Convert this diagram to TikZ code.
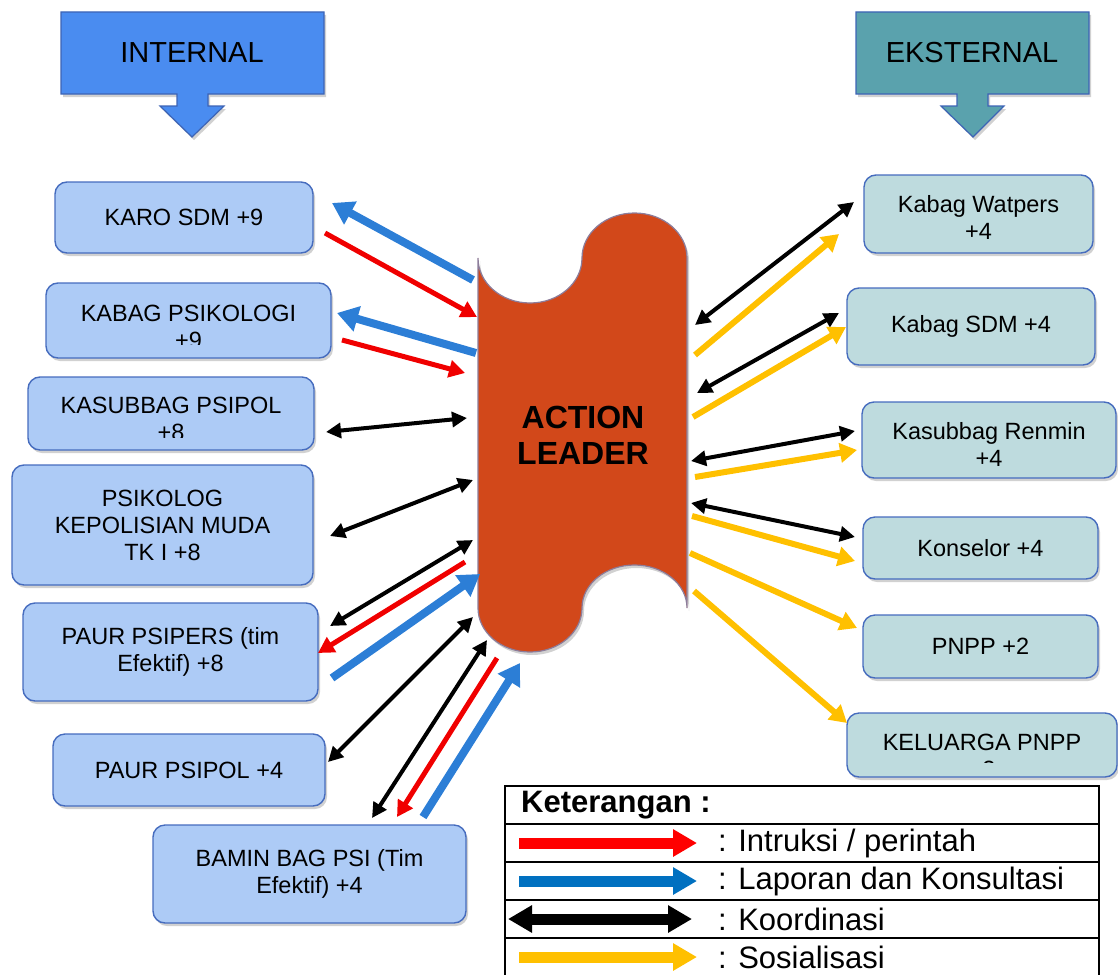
\documentclass[tikz,border=0pt]{standalone}
\usepackage{fontspec}
\setmainfont{Liberation Sans}
\usetikzlibrary{arrows.meta,shadows}

\definecolor{intfill}{RGB}{74,140,240}
\definecolor{extfill}{RGB}{90,162,173}
\definecolor{banline}{RGB}{61,100,181}
\definecolor{lfill}{RGB}{173,203,246}
\definecolor{rfill}{RGB}{190,219,222}
\definecolor{boxline}{RGB}{70,108,190}
\definecolor{alfill}{RGB}{210,72,26}
\definecolor{alline}{RGB}{140,125,155}
\definecolor{cred}{RGB}{240,0,0}
\definecolor{cblue}{RGB}{44,126,214}
\definecolor{lblue}{RGB}{0,112,192}
\definecolor{cyellow}{RGB}{255,192,0}

\begin{document}
\begin{tikzpicture}[x=1pt,y=-1pt,
  shade/.style={drop shadow={shadow xshift=2pt,shadow yshift=-3pt,opacity=0.3,fill=black!60}},
  banner/.style={draw=banline,line width=1.2pt,shade},
  bantext/.style={font=\fontsize{29}{33}\selectfont,inner sep=0pt},
  lbox/.style={draw=boxline,line width=1.4pt,fill=lfill,rounded corners=12pt,shade,inner sep=0pt},
  rbox/.style={draw=boxline,line width=1.4pt,fill=rfill,rounded corners=12pt,shade,inner sep=0pt},
  btext/.style={font=\fontsize{23.5}{27}\selectfont,align=center,inner sep=0pt},
  arrB/.style={draw=cblue,line width=8pt,-{Triangle[length=21pt,width=25pt]}},
  arrR/.style={draw=cred,line width=5pt,-{Triangle[length=16pt,width=17pt]}},
  arrK/.style={draw=black,line width=4pt,{Triangle[length=15pt,width=15pt]}-{Triangle[length=15pt,width=15pt]}},
  arrY/.style={draw=cyellow,line width=6pt,-{Triangle[length=17pt,width=19pt]}},
  legarr/.style={line width=11pt,-{Triangle[length=24pt,width=26pt]}},
  legtext/.style={font=\fontsize{31}{35}\selectfont,anchor=west,inner sep=0pt}
]
\useasboundingbox (0,0) rectangle (1118,974);

% ---------- headers ----------
\path[banner,fill=intfill] (61,12) -- (324,12) -- (324,94) -- (208,94) -- (208,106) -- (224,106)
  -- (192,137) -- (160,106) -- (177,106) -- (177,94) -- (61,94) -- cycle;
\node[bantext] (internal) at (192,53) {INTERNAL};
\path[banner,fill=extfill] (856,12) -- (1089,12) -- (1089,94) -- (988,94) -- (988,106) -- (1004,106)
  -- (973,137) -- (941,106) -- (957,106) -- (957,94) -- (856,94) -- cycle;
\node[bantext] (eksternal) at (972,53) {EKSTERNAL};

% ---------- central shape ----------
\path[draw=alline,line width=1.2pt,fill=alfill,shade]
  (478,258) arc[start angle=180,end angle=0,x radius=52,y radius=45]
  arc[start angle=180,end angle=360,x radius=52.5,y radius=45]
  -- (687,608)
  arc[start angle=360,end angle=180,x radius=52.5,y radius=43]
  arc[start angle=0,end angle=180,x radius=52,y radius=44]
  -- cycle;
\node[font=\fontsize{32}{36}\selectfont\bfseries,align=center,inner sep=0pt] (al) at (583,435) {ACTION\\LEADER};

% ---------- internal boxes ----------
\node[lbox,minimum width=258pt,minimum height=71pt] (karo) at (184,217.5) {};
\node[btext] (karo-t) at (karo.center) {KARO SDM +9};

\node[lbox,minimum width=285pt,minimum height=75pt] (kabag) at (188.5,320.5) {};
\begin{scope}
  \clip (46,283) rectangle (331,344);
  \node[btext] (kabag-t) at (188.5,326.5) {KABAG PSIKOLOGI\\+9};
\end{scope}

\node[lbox,minimum width=286pt,minimum height=73pt] (kasub) at (171,413.5) {};
\begin{scope}
  \clip (28,377) rectangle (314,437);
  \node[btext] (kasub-t) at (171,418.5) {KASUBBAG PSIPOL\\+8};
\end{scope}

\node[lbox,minimum width=301pt,minimum height=120pt] (psikolog) at (162.5,525) {};
\node[btext] (psikolog-t) at (psikolog.center) {PSIKOLOG\\KEPOLISIAN MUDA\\TK I +8};

\node[lbox,minimum width=295pt,minimum height=98pt] (psipers) at (170.5,652) {};
\node[btext] (psipers-t) at (psipers.center) {PAUR PSIPERS (tim\\Efektif) +8};

\node[lbox,minimum width=272pt,minimum height=72pt] (psipol) at (189,770) {};
\node[btext] (psipol-t) at (psipol.center) {PAUR PSIPOL +4};

\node[lbox,minimum width=313pt,minimum height=98pt] (bamin) at (309.5,874) {};
\node[btext] (bamin-t) at (bamin.center) {BAMIN BAG PSI (Tim\\Efektif) +4};

% ---------- external boxes ----------
\node[rbox,minimum width=229pt,minimum height=78pt] (watpers) at (978.5,214) {};
\node[btext] (watpers-t) at (978.5,217) {Kabag Watpers\\+4};

\node[rbox,minimum width=248pt,minimum height=77pt] (sdm) at (971,326.5) {};
\node[btext] (sdm-t) at (sdm.center) {Kabag SDM +4};

\node[rbox,minimum width=254pt,minimum height=76pt] (renmin) at (989,440) {};
\node[btext] (renmin-t) at (989,444) {Kasubbag Renmin\\+4};

\node[rbox,minimum width=235pt,minimum height=62pt] (konselor) at (980.5,548) {};
\node[btext] (konselor-t) at (konselor.center) {Konselor +4};

\node[rbox,minimum width=235pt,minimum height=63pt] (pnpp) at (980.5,646.5) {};
\node[btext] (pnpp-t) at (pnpp.center) {PNPP +2};

\node[rbox,minimum width=270pt,minimum height=64pt] (keluarga) at (982,745) {};
\begin{scope}
  \clip (847,713) rectangle (1117,762);
  \node[btext] (keluarga-t) at (982,755.5) {KELUARGA PNPP\\+2};
\end{scope}

% ---------- connector end points ----------
\coordinate (c1a) at (473,280); \coordinate (c1b) at (332,203);
\coordinate (c2a) at (325,233); \coordinate (c2b) at (477,317);
\coordinate (c3a) at (476,353); \coordinate (c3b) at (337,313);
\coordinate (c4a) at (342,340); \coordinate (c4b) at (465,373);
\coordinate (c5a) at (326,432); \coordinate (c5b) at (467,418);
\coordinate (c6a) at (330,536); \coordinate (c6b) at (473,480);
\coordinate (c7a) at (330,626); \coordinate (c7b) at (473,540);
\coordinate (c8a) at (465,562); \coordinate (c8b) at (318,653);
\coordinate (c9a) at (332,678); \coordinate (c9b) at (480,574);
\coordinate (c10a) at (328,762); \coordinate (c10b) at (473,617);
\coordinate (c11a) at (372,818); \coordinate (c11b) at (487,640);
\coordinate (c12a) at (497,658); \coordinate (c12b) at (397,817);
\coordinate (c13a) at (423,817); \coordinate (c13b) at (520,663);

\coordinate (e1a) at (695,325); \coordinate (e1b) at (854,202);
\coordinate (e2a) at (695,355); \coordinate (e2b) at (839,234);
\coordinate (e3a) at (697,393); \coordinate (e3b) at (839,313);
\coordinate (e4a) at (693,417); \coordinate (e4b) at (846,327);
\coordinate (e5a) at (691,461); \coordinate (e5b) at (855,431);
\coordinate (e6a) at (695,477); \coordinate (e6b) at (857,450);
\coordinate (e7a) at (691,503); \coordinate (e7b) at (855,537);
\coordinate (e8a) at (692,516); \coordinate (e8b) at (855,561);
\coordinate (e9a) at (690,553); \coordinate (e9b) at (857,628);
\coordinate (e10a) at (694,591); \coordinate (e10b) at (847,723);

% ---------- internal connectors ----------
\draw[arrB] (c1a) -- (c1b);
\draw[arrR] (c2a) -- (c2b);
\draw[arrB] (c3a) -- (c3b);
\draw[arrR] (c4a) -- (c4b);
\draw[arrK] (c5a) -- (c5b);
\draw[arrK] (c6a) -- (c6b);
\draw[arrK] (c7a) -- (c7b);
\draw[arrR] (c8a) -- (c8b);
\draw[arrB] (c9a) -- (c9b);
\draw[arrK] (c10a) -- (c10b);
\draw[arrK] (c11a) -- (c11b);
\draw[arrR] (c12a) -- (c12b);
\draw[arrB] (c13a) -- (c13b);

% ---------- external connectors ----------
\draw[arrK] (e1a) -- (e1b);
\draw[arrY] (e2a) -- (e2b);
\draw[arrK] (e3a) -- (e3b);
\draw[arrY] (e4a) -- (e4b);
\draw[arrK] (e5a) -- (e5b);
\draw[arrY] (e6a) -- (e6b);
\draw[arrK] (e7a) -- (e7b);
\draw[arrY] (e8a) -- (e8b);
\draw[arrY] (e9a) -- (e9b);
\draw[arrY] (e10a) -- (e10b);

% ---------- legend ----------
\draw[line width=2pt,fill=white] (505,786) rectangle (1099,978);
\foreach \yy in {824,862,900,938} \draw[line width=2pt] (505,\yy) -- (1099,\yy);
\node[font=\fontsize{31}{35}\selectfont\bfseries,anchor=west,inner sep=0pt] (ket) at (521,805) {Keterangan :};
\coordinate (lg1a) at (519,843); \coordinate (lg1b) at (697,843);
\coordinate (lg2a) at (519,881); \coordinate (lg2b) at (697,881);
\coordinate (lg3a) at (508,919); \coordinate (lg3b) at (692,919);
\coordinate (lg4a) at (519,957); \coordinate (lg4b) at (697,957);
\draw[legarr,draw=red,fill=red] (lg1a) -- (lg1b);
\draw[legarr,draw=lblue] (lg2a) -- (lg2b);
\draw[line width=11pt,{Triangle[length=24pt,width=26pt]}-{Triangle[length=24pt,width=26pt]}] (lg3a) -- (lg3b);
\draw[legarr,draw=cyellow] (lg4a) -- (lg4b);
\node[legtext] (lt1) at (718,843) {: Intruksi / perintah};
\node[legtext] (lt2) at (718,881) {: Laporan dan Konsultasi};
\node[legtext] (lt3) at (718,919) {: Koordinasi};
\node[legtext] (lt4) at (718,957) {: Sosialisasi};
\end{tikzpicture}
\end{document}
